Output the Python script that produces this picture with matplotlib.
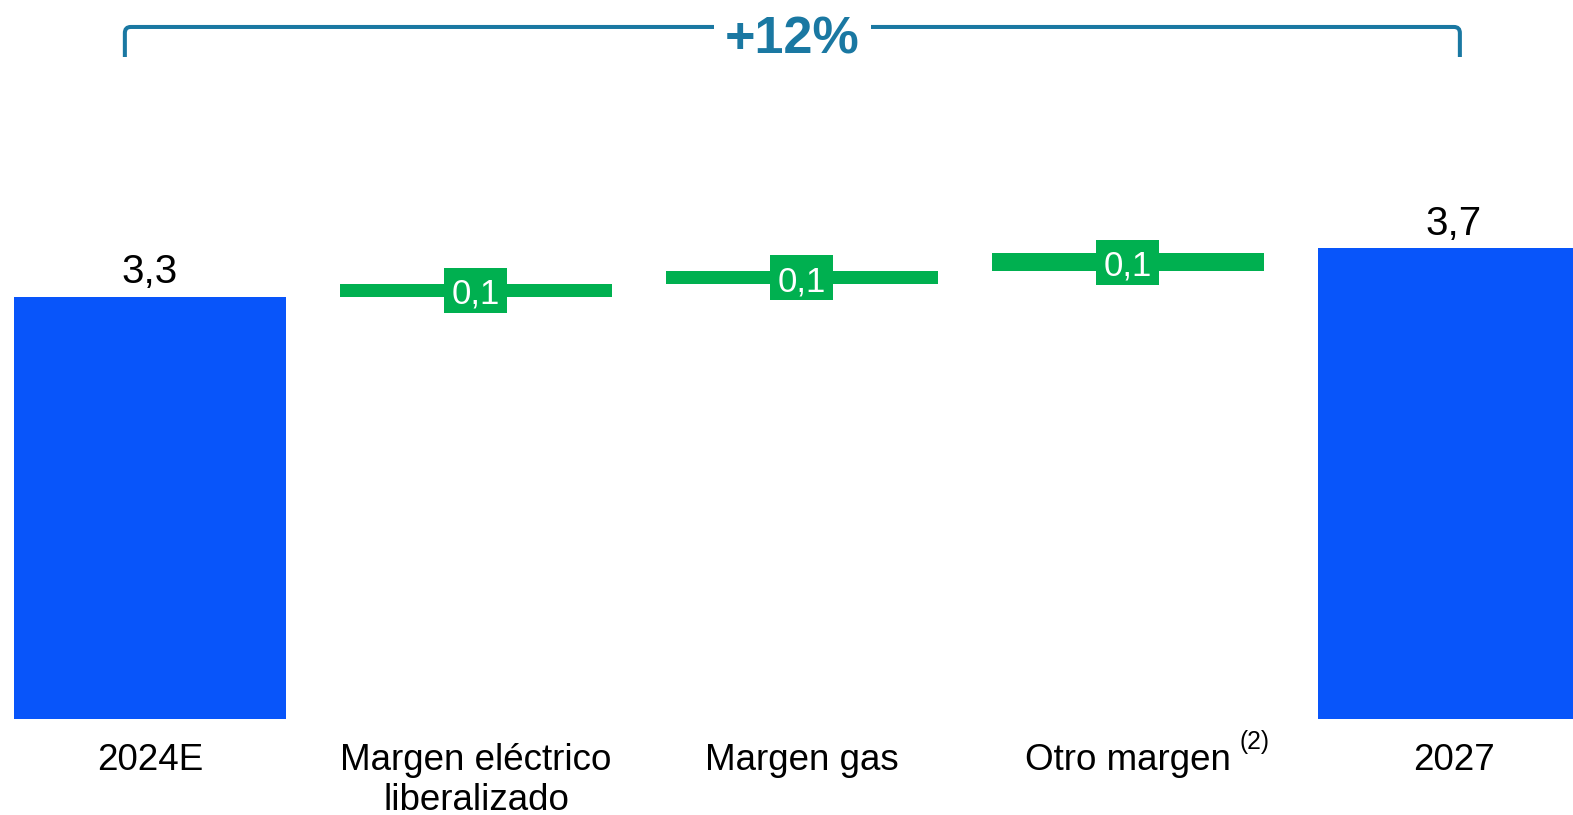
import matplotlib
matplotlib.use("Agg")
import matplotlib.pyplot as plt
import matplotlib.transforms as mtransforms
from matplotlib.patches import Rectangle, PathPatch
from matplotlib.path import Path

plt.rcParams['font.family'] = ['Liberation Sans', 'DejaVu Sans']

# ---- data ----
categories = ["2024E", "Margen eléctrico\nliberalizado", "Margen gas", "Otro margen", "2027"]
start_value = 3.3
end_value = 3.68
deltas = [0.10, 0.10, 0.14]
footnote = "(2)"
growth_label = "+12%"

BLUE = "#0855FA"
GREEN = "#00B050"
TEAL = "#1A78A2"


def fmt(v):
    return f"{v:.1f}".replace(".", ",")


fig = plt.figure(figsize=(15.73, 8.15), dpi=100)
ax = fig.add_axes([0, 0.1184, 1, 0.8816])
ax.set_xlim(-0.46, 4.365)
ax.set_ylim(0, 5.622)
ax.axis("off")

width = 0.834
xs = list(range(len(categories)))

# totals
ax.bar(xs[0], start_value, width, color=BLUE)
ax.bar(xs[-1], end_value, width, color=BLUE)
for x, v in ((xs[0], start_value), (xs[-1], end_value)):
    ax.annotate(fmt(v), (x, v), xytext=(0, 4), textcoords="offset points",
                ha="center", va="bottom", fontsize=29, color="black")

# deltas
bottom = start_value
for i, d in enumerate(deltas):
    x = xs[i + 1]
    ax.bar(x, d, width, bottom=bottom, color=GREEN)
    yc = bottom + d / 2
    trans = fig.dpi_scale_trans + mtransforms.ScaledTranslation(x, yc, ax.transData)
    ax.add_patch(Rectangle((-0.315, -0.225), 0.63, 0.45, transform=trans,
                           facecolor=GREEN, edgecolor="none", clip_on=False, zorder=3))
    ax.annotate(fmt(d), (x, yc), xytext=(0, -9.8), textcoords="offset points",
                ha="center", va="baseline", fontsize=25, color="white", zorder=4)
    bottom += d

# category labels
for x, c in zip(xs, categories):
    ax.annotate(c, (x, 0), xytext=(0, -17.6), textcoords="offset points",
                ha="center", va="top", fontsize=26.5, color="black",
                linespacing=1.2, annotation_clip=False)
ax.annotate(footnote, (xs[3], 0), xytext=(80.6, -21.8), textcoords="offset points",
            ha="left", va="baseline", fontsize=17.7, color="black", annotation_clip=False)

# bracket
xl, xr = -0.077, 4.018
yt, yb = 5.411, 5.176
rx, ry = 0.018, 0.047
verts = [(xl, yb), (xl, yt - ry), (xl, yt), (xl + rx, yt), (xr - rx, yt),
         (xr, yt), (xr, yt - ry), (xr, yb)]
codes = [Path.MOVETO, Path.LINETO, Path.CURVE3, Path.CURVE3, Path.LINETO,
         Path.CURVE3, Path.CURVE3, Path.LINETO]
ax.add_patch(PathPatch(Path(verts, codes), facecolor="none", edgecolor=TEAL,
                       linewidth=2.9, clip_on=False, zorder=2))
ax.text((xl + xr) / 2, 5.205, growth_label, ha="center", va="baseline",
        fontsize=37.5, fontweight="bold", color=TEAL, zorder=5,
        bbox=dict(facecolor="white", edgecolor="none", pad=8.3))

fig.savefig("out.png", dpi=100)
